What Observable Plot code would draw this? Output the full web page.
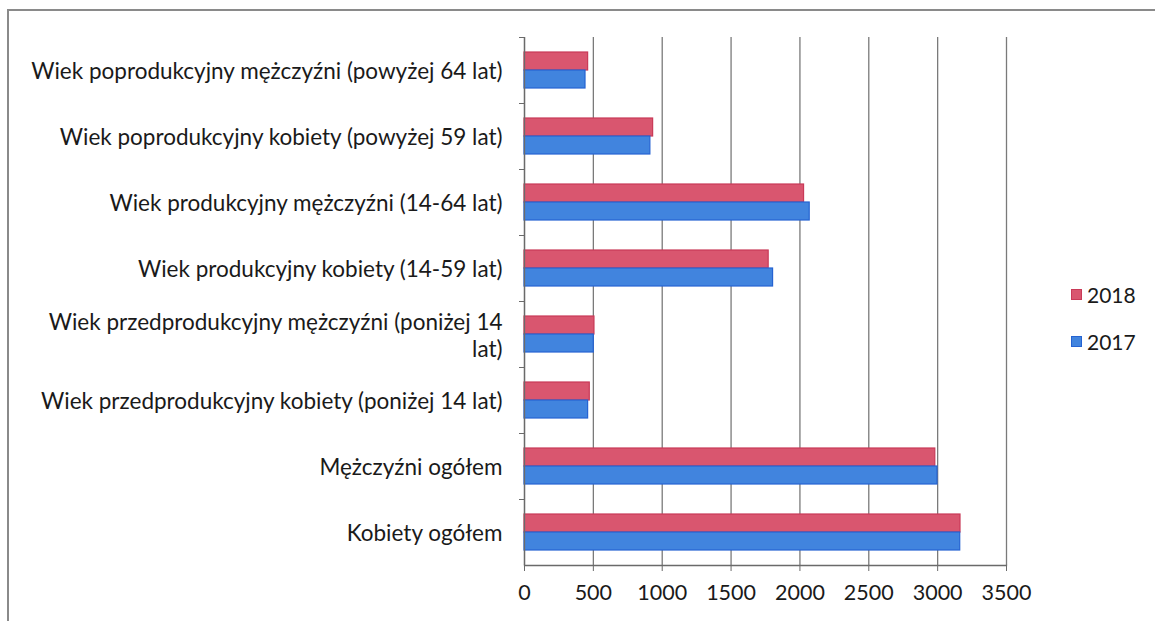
<!DOCTYPE html>
<html><head><meta charset="utf-8">
<script src="https://cdn.jsdelivr.net/npm/d3@7"></script>
<script src="https://cdn.jsdelivr.net/npm/@observablehq/plot@0.6"></script>
<style>
html,body{margin:0;padding:0;background:#fff;width:1155px;height:621px;overflow:hidden;font-family:Lato,sans-serif;color:#1a1a1a}
#wrap{position:relative;width:1155px;height:621px}
#frame{position:absolute;left:7px;top:9px;width:1170px;height:640px;border-top:2px solid #8a8a8a;border-left:2px solid #8a8a8a}
#chart{position:absolute;left:0;top:0}
#legend{position:absolute;left:1071px;top:280px;font-size:21px}
.item{display:flex;align-items:center;height:28px;margin-bottom:19px}
.sw{width:11px;height:11px;margin-right:5px;box-sizing:border-box;border:1px solid}
</style>
</head><body>
<div id="wrap"><div id="frame"></div><div id="chart"></div><div id="legend"></div></div>
<script>
const categories = [
  "Wiek poprodukcyjny mężczyźni (powyżej 64 lat)",
  "Wiek poprodukcyjny kobiety (powyżej 59 lat)",
  "Wiek produkcyjny mężczyźni (14-64 lat)",
  "Wiek produkcyjny kobiety (14-59 lat)",
  "Wiek przedprodukcyjny mężczyźni (poniżej 14 lat)",
  "Wiek przedprodukcyjny kobiety (poniżej 14 lat)",
  "Mężczyźni ogółem",
  "Kobiety ogółem"
];
const labels = [
  "Wiek poprodukcyjny mężczyźni (powyżej 64 lat)",
  "Wiek poprodukcyjny kobiety (powyżej 59 lat)",
  "Wiek produkcyjny mężczyźni (14-64 lat)",
  "Wiek produkcyjny kobiety (14-59 lat)",
  "Wiek przedprodukcyjny mężczyźni (poniżej 14\nlat)",
  "Wiek przedprodukcyjny kobiety (poniżej 14 lat)",
  "Mężczyźni ogółem",
  "Kobiety ogółem"
];
const years = ["2018", "2017"];
const values2018 = [462, 934, 2030, 1773, 508, 474, 2983, 3166];
const values2017 = [443, 914, 2071, 1805, 503, 462, 2999, 3164];
const xTicks = [0, 500, 1000, 1500, 2000, 2500, 3000, 3500];
const fills = ["#d9566f", "#4184de"];
const strokes = ["#c93a58", "#2563d2"];

const rows = [];
categories.forEach((c, i) => {
  rows.push({category: c, year: "2018", value: values2018[i]});
  rows.push({category: c, year: "2017", value: values2017[i]});
});
const labelOf = new Map(categories.map((c, i) => [c, labels[i]]));

const chart = Plot.plot({
  width: 1155,
  height: 621,
  marginLeft: 524,
  marginRight: 149,
  marginTop: 36,
  marginBottom: 56,
  style: {fontFamily: "Lato, sans-serif", fontSize: "21px", color: "#1a1a1a", background: "transparent"},
  x: {domain: [0, 3500], axis: null, label: null},
  y: {domain: years, paddingInner: 0, paddingOuter: 0.78, axis: null, label: null},
  fy: {domain: categories, padding: 0, axis: null, label: null},
  color: {domain: years, range: fills},
  marks: [
    Plot.gridX(xTicks, {stroke: "#7a7a7a", strokeOpacity: 1, strokeWidth: 1.3}),
    Plot.barX(rows, {x: "value", y: "year", fy: "category", fill: "year",
      stroke: d => strokes[years.indexOf(d.year)], strokeWidth: 1.2}),
    Plot.ruleX([0], {stroke: "#6a6a6a", strokeWidth: 1.3}),
    Plot.frame({anchor: "bottom", facet: "super", stroke: "#6a6a6a", strokeWidth: 1.3}),
    Plot.axisFy({anchor: "left", label: null, tickSize: 0, tickPadding: 22, tickFormat: d => labelOf.get(d), fontSize: 22.5, lineHeight: 1.2}),
    Plot.axisFy({anchor: "left", label: null, tickSize: 5, tickFormat: () => "", dy: -33, stroke: "#6a6a6a"}),
    Plot.axisX(xTicks, {anchor: "bottom", label: null, tickSize: 6, tickPadding: 13, fontSize: 21.5, tickFormat: d => String(d), stroke: "#6a6a6a"})
  ]
});
document.getElementById("chart").append(chart);

const legend = document.getElementById("legend");
years.forEach((y, i) => {
  const it = document.createElement("div");
  it.className = "item";
  const sw = document.createElement("span");
  sw.className = "sw";
  sw.style.background = fills[i];
  sw.style.borderColor = strokes[i];
  const t = document.createElement("span");
  t.textContent = y;
  it.append(sw, t);
  legend.append(it);
});
</script>
</body></html>
